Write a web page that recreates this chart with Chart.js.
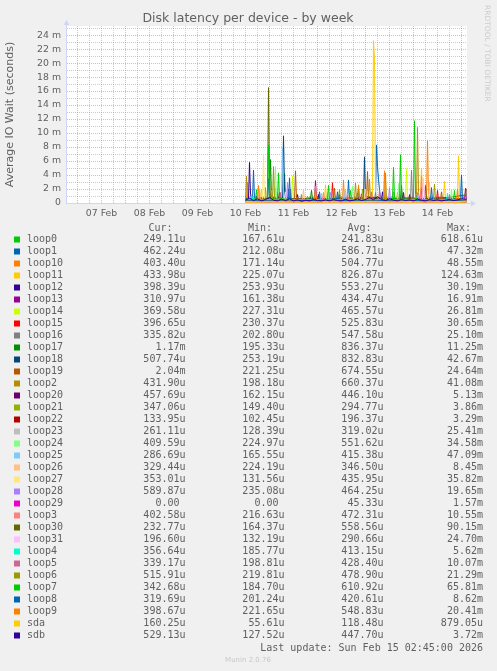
<!DOCTYPE html>
<html>
<head>
<meta charset="utf-8">
<script src="https://cdn.jsdelivr.net/npm/chart.js@4.4.1/dist/chart.umd.min.js"></script>
<style>
  html, body { margin: 0; padding: 0; background: #f0f0f0; }
  canvas { display: block; }
</style>
</head>
<body>
<canvas id="disk" width="497" height="671"></canvas>
<script>
// hours counted from 07 Feb 00:00
const xMin = -5.25, xMax = 194.75;
const xTicks = [0, 6, 12, 18, 24, 30, 36, 42, 48, 54, 60, 66, 72, 78, 84, 90, 96, 102, 108, 114, 120, 126, 132, 138, 144, 150, 156, 162, 168, 174, 180, 186, 192];
const dayLabels = ['07 Feb', '08 Feb', '09 Feb', '10 Feb', '11 Feb', '12 Feb', '13 Feb', '14 Feb'];
const yTicks = [0, 1, 2, 3, 4, 5, 6, 7, 8, 9, 10, 11, 12, 13, 14, 15, 16, 17, 18, 19, 20, 21, 22, 23, 24, 25];

const names = ['loop0', 'loop1', 'loop10', 'loop11', 'loop12', 'loop13', 'loop14', 'loop15', 'loop16', 'loop17', 'loop18', 'loop19', 'loop2', 'loop20', 'loop21', 'loop22', 'loop23', 'loop24', 'loop25', 'loop26', 'loop27', 'loop28', 'loop29', 'loop3', 'loop30', 'loop31', 'loop4', 'loop5', 'loop6', 'loop7', 'loop8', 'loop9', 'sda', 'sdb'];
const colors = ['#00CC00', '#0066B3', '#FF8000', '#FFCC00', '#330099', '#990099', '#CCFF00', '#FF0000', '#808080', '#008F00', '#00487D', '#B35A00', '#B38F00', '#6B006B', '#8FB300', '#B30000', '#BEBEBE', '#80FF80', '#80C9FF', '#FFC080', '#FFE680', '#AA80FF', '#EE00CC', '#FF8080', '#666600', '#FFBFFF', '#00FFCC', '#CC6699', '#999900', '#00CC00', '#0066B3', '#FF8000', '#FFCC00', '#330099'];
const curV = ['249.11u', '462.24u', '403.40u', '433.98u', '398.39u', '310.97u', '369.58u', '396.65u', '335.82u', '1.17m', '507.74u', '2.04m', '431.90u', '457.69u', '347.06u', '133.95u', '261.11u', '409.59u', '286.69u', '329.44u', '353.01u', '589.87u', '0.00', '402.58u', '232.77u', '196.60u', '356.64u', '339.17u', '515.91u', '342.68u', '319.69u', '398.67u', '160.25u', '529.13u'];
const minV = ['167.61u', '212.08u', '171.14u', '225.07u', '253.93u', '161.38u', '227.31u', '230.37u', '202.80u', '195.33u', '253.19u', '221.25u', '198.18u', '162.15u', '149.40u', '102.45u', '128.39u', '224.97u', '165.55u', '224.19u', '131.56u', '235.08u', '0.00', '216.63u', '164.37u', '132.19u', '185.77u', '198.81u', '219.81u', '184.70u', '201.24u', '221.65u', '55.61u', '127.52u'];
const avgV = ['241.83u', '586.71u', '504.77u', '826.87u', '553.27u', '434.47u', '465.57u', '525.83u', '547.58u', '836.37u', '832.83u', '674.55u', '660.37u', '446.10u', '294.77u', '196.37u', '319.02u', '551.62u', '415.38u', '346.50u', '435.95u', '464.25u', '45.33u', '472.31u', '558.56u', '290.66u', '413.15u', '428.40u', '478.90u', '610.92u', '420.61u', '548.83u', '118.48u', '447.70u'];
const maxV = ['618.61u', '47.32m', '48.55m', '124.63m', '30.19m', '16.91m', '26.81m', '30.65m', '25.10m', '11.25m', '42.67m', '24.64m', '41.08m', '5.13m', '3.86m', '3.29m', '25.41m', '34.58m', '47.09m', '8.45m', '35.82m', '19.65m', '1.57m', '10.55m', '90.15m', '24.70m', '5.62m', '10.07m', '21.29m', '65.81m', '8.62m', '20.41m', '879.05u', '3.72m'];

// [hour, milliseconds]
const loop0 = [[84,.3],[88,.25],[92,.35],[97,.22],[102,.3],[108,.2],[114,.28],[120,.22],[126,.3],[132,.24],[138,.2],[144,.3],[150,.26],[156,.22],[162,.3],[168,.25],[174,.2],[180,.28],[186,.24],[192,.3],[194.5,.25]];
const loop1 = [[84,.4],[87.5,.5],[88,4.7],[88.5,.6],[92,.4],[95,.5],[95.5,3.5],[96,.5],[100,.4],[106,.5],[112,.35],[118,.45],[120.5,.5],[121,1.6],[121.5,.4],[128,.5],[135,.5],[135.5,3.3],[136,.6],[142,.4],[149,.6],[149.5,8.3],[150,5.2],[150.5,3.4],[151,1.9],[151.5,.7],[156,.45],[162,.5],[170,.4],[178,.5],[186,.45],[191.5,.6],[192,4.0],[192.5,.5],[194.5,.46]];
const loop10 = [[84,.4],[84.5,.5],[85,3.0],[85.5,.5],[90,.4],[99.5,.4],[100,1.5],[100.5,.4],[108,.45],[116,.4],[124,.5],[132.5,.5],[133,3.3],[133.5,.5],[140,.4],[146,.5],[152,.4],[157.5,.5],[158,1.6],[158.5,.4],[166,.45],[174.5,.6],[175,8.9],[175.5,1.2],[176,.5],[182,.4],[188,.5],[194.5,.4]];
const loop11 = [[84,.5],[91.5,.5],[92,2.0],[92.5,.5],[100,.6],[108,.5],[116,.55],[123.5,.6],[124,2.6],[124.5,.5],[132,.6],[140,.5],[147.5,.7],[148,23.2],[148.5,20.5],[149,.9],[156,.6],[164,.5],[171.5,.6],[172,5.0],[172.5,.6],[178,.5],[183,.6],[183.5,3.1],[184,.5],[190,.7],[190.5,6.75],[191,1.0],[191.5,.5],[194.5,.45]];
const loop12 = [[84,.45],[85.5,.5],[86,5.8],[86.5,1.2],[87,.5],[94,.45],[102,.5],[109.5,.5],[110,1.2],[110.5,.4],[118,.5],[120,.5],[120.5,1.2],[121,.5],[126,.45],[134,.5],[139.5,.5],[140,1.4],[140.5,.5],[148,.5],[152,.5],[152.5,1.6],[153,.5],[156,.55],[164,.45],[172,.5],[180,.5],[188,.45],[194.5,.4]];
const loop13 = [[84,.35],[89,.4],[89.5,1.0],[90,.35],[98,.4],[105,.35],[105.5,2.0],[106,.35],[113,.4],[118.5,.45],[119,3.2],[119.5,.5],[126,.4],[134,.35],[142,.4],[150,.45],[158,.35],[166,.4],[174,.4],[182,.35],[188,.4],[193.5,.5],[194,2.1],[194.5,.3]];
const loop14 = [[84,.4],[92,.35],[100,.45],[107,.4],[107.5,3.8],[108,.4],[116,.4],[127.5,.4],[128,1.3],[128.5,.4],[136,.45],[144,.4],[152,.35],[159,.4],[164,.45],[164.5,4.9],[165,.5],[172,.4],[180,.45],[188,.4],[194.5,.37]];
const loop15 = [[84,.45],[92,.5],[100,.4],[108,.45],[116,.5],[122,.4],[127,.45],[127.5,2.9],[128,.45],[134,.5],[141.5,.45],[142,1.3],[142.5,.4],[150,.5],[158,.45],[166,.5],[171.5,.5],[172,2.2],[172.5,.45],[179.5,.4],[180,1.8],[180.5,.4],[188,.45],[194.5,.4]];
const loop16 = [[84,.45],[92,.5],[100,.45],[106,.45],[106.5,2.0],[107,.45],[111.5,.5],[112,1.2],[112.5,.45],[120,.5],[128,.45],[136,.5],[144,.45],[148.5,.5],[149,1.5],[149.5,.5],[156,.45],[162,.5],[166.5,.5],[167,4.7],[167.5,.5],[174,.45],[182,.5],[190,.45],[194.5,.34]];
const loop17 = [[84,.6],[90,.7],[96,.7],[96.5,6.2],[97,.8],[103,.7],[103.5,4.2],[104,.7],[110,.6],[116.5,.7],[117,1.8],[117.5,.6],[126,.65],[134,.7],[140,.7],[140.5,2.1],[141,.7],[148,.65],[155,.7],[161.5,.7],[162,2.5],[162.5,.7],[170,.65],[178,.7],[186,.8],[194.5,1.17]];
const loop18 = [[84,.6],[92,.7],[98,.6],[102.5,.7],[103,9.6],[103.5,2.0],[104,.7],[110,.6],[118,.7],[126,.65],[134,.7],[143,.7],[143.5,6.6],[144,.9],[150,.7],[158,.6],[166,.7],[174,.65],[182,.7],[190,.6],[194.5,.51]];
const loop19 = [[84,.5],[92,.55],[100,.5],[108.5,.55],[109,4.6],[109.5,.6],[116,.5],[123,.55],[128,.5],[128.5,2.1],[129,.5],[136,.55],[144.5,.6],[145,4.5],[145.5,.6],[152,.5],[160,.55],[168,.5],[176,.55],[181.5,.55],[182,1.6],[182.5,.55],[190,.55],[194,.9],[194.5,2.04]];
const loop2 = [[84,.5],[84.5,3.8],[85,.6],[92,.55],[100,.5],[108,.55],[116,.5],[124,.55],[132,.5],[138.5,.55],[139,2.85],[139.5,.5],[145.5,.5],[146,3.4],[146.5,.5],[153.5,.55],[154,4.3],[154.5,.55],[160,.5],[169.5,.6],[170,10.8],[170.5,1.5],[171,.55],[178,.5],[186,.5],[194.5,.43]];
const loop20 = [[84,.4],[92,.4],[100.5,.4],[101,1.5],[101.5,.4],[110,.35],[118,.45],[126,.4],[130.5,.4],[131,1.2],[131.5,.4],[140,.45],[148,.4],[156,.45],[162.5,.4],[163,1.5],[163.5,.4],[172,.4],[180,.45],[188,.4],[194.5,.46]];
const loop21 = [[84,.25],[93.5,.3],[94,2.2],[94.5,.3],[100,.25],[108,.3],[114.5,.3],[115,1.0],[115.5,.25],[124,.3],[132,.25],[142,.3],[142.5,2.0],[143,.3],[148,.25],[156,.3],[159.5,.3],[160,1.5],[160.5,.3],[168,.25],[176,.3],[184,.25],[194.5,.35]];
const loop22 = [[84,.2],[94,.18],[104,.2],[114,.17],[124,.2],[134,.18],[144,.21],[154,.18],[165.5,.2],[166,1.2],[166.5,.18],[174,.17],[184,.2],[194.5,.13]];
const loop23 = [[84,.3],[92,.3],[98.5,.3],[99,2.2],[99.5,.3],[108,.28],[118,.3],[126,.28],[132.5,.3],[133,1.5],[133.5,.3],[142,.3],[152,.28],[162,.3],[172,.28],[182,.3],[194.5,.26]];
const loop24 = [[84,.45],[92,.5],[98.5,.5],[99,5.2],[99.5,.6],[106,.5],[114,.45],[120,.5],[124.5,.5],[125,1.5],[125.5,.5],[134,.45],[137,.5],[137.5,2.4],[138,.5],[150,.45],[156,.5],[160,.5],[160.5,2.8],[161,.5],[168,.45],[176,.5],[186.5,.45],[187,1.9],[187.5,.45],[194.5,.41]];
const loop25 = [[84,.35],[92,.4],[98,.35],[102,.4],[102.5,7.9],[103,.5],[110,.35],[116,.4],[121.5,.4],[122,1.4],[122.5,.35],[130,.4],[133.5,.4],[134,2.0],[134.5,.4],[140,.35],[150,.4],[160,.35],[170,.4],[180,.35],[190,.4],[194.5,.29]];
const loop26 = [[84,.3],[90.5,.35],[91,2.0],[91.5,.3],[100,.3],[108,.35],[112.5,.35],[113,1.9],[113.5,.3],[120,.35],[130,.3],[143.5,.35],[144,2.0],[144.5,.3],[150,.3],[160,.35],[168,.3],[175.5,.4],[176,3.0],[176.5,.35],[184,.3],[194.5,.33]];
const loop27 = [[84,.35],[92.5,.4],[93,6.9],[93.5,.5],[100,.4],[110,.35],[120,.4],[130,.35],[140,.4],[150,.35],[160,.4],[170,.35],[180,.4],[190,.35],[194.5,.35]];
const loop28 = [[84,.4],[92,.45],[100,.4],[104.5,.45],[105,3.0],[105.5,.45],[112,.4],[120,.45],[126,.4],[126.5,1.5],[127,.4],[140,.45],[150,.4],[155.5,.45],[156,2.2],[156.5,.45],[169.5,.45],[170,1.5],[170.5,.45],[180,.4],[188,.45],[194.5,.59]];
const loop29 = [[84,0],[100,0],[119,0],[119.5,.8],[120,0],[140,0],[160,0],[180,0],[194.5,0]];
const loop3 = [[84,.4],[92,.45],[96.5,.4],[97,1.8],[97.5,.4],[110,.45],[120,.4],[122.5,.4],[123,1.5],[123.5,.4],[128,.45],[134.5,.45],[135,1.4],[135.5,.4],[144,.45],[152,.4],[160,.45],[166,.4],[171.5,.45],[172,4.0],[172.5,.45],[180,.4],[188,.45],[194.5,.4]];
const loop30 = [[84,.45],[90,.5],[95,.6],[95.5,16.5],[96,3.0],[96.5,.6],[104,.5],[112,.45],[120,.5],[130,.45],[140,.5],[150,.45],[160,.5],[173.5,.45],[174,2.5],[174.5,.45],[180,.5],[190,.45],[194.5,.23]];
const loop31 = [[84,.25],[94,.3],[103.5,.25],[104,1.6],[104.5,.3],[114,.3],[124,.25],[134,.3],[144,.25],[154,.3],[164,.25],[172.5,.3],[173,3.6],[173.5,.3],[184,.25],[194.5,.2]];
const loop4 = [[84,.35],[86.5,.4],[87,1.2],[87.5,.5],[88,1.0],[88.5,.4],[96,.35],[106,.4],[116,.35],[126,.4],[136,.35],[146,.4],[156,.35],[166,.4],[176,.35],[184.5,.4],[185,1.4],[185.5,.35],[194.5,.36]];
const loop5 = [[84,.35],[94,.4],[101,.35],[101.5,1.5],[102,.35],[114,.4],[124,.35],[134,.4],[146.5,.4],[147,1.6],[147.5,.4],[150.5,.4],[151,1.8],[151.5,.4],[156,.35],[166,.4],[176,.35],[185.5,.4],[186,1.2],[186.5,.35],[194.5,.34]];
const loop6 = [[84,.4],[92,.45],[97.5,.45],[98,5.2],[98.5,.5],[106,.4],[116,.45],[126,.4],[130.5,.4],[131,1.9],[131.5,.4],[136,.45],[146,.4],[156,.45],[166,.4],[178,.45],[178.5,2.7],[179,.45],[186,.4],[194.5,.52]];
const loop7 = [[84,.45],[89,.5],[89.5,1.9],[90,.5],[95,.5],[95.5,8.3],[96,.6],[100,.5],[100.5,4.3],[101,.6],[108,.5],[116,.45],[125,.5],[125.5,2.5],[126,.5],[136,.5],[136.5,1.8],[137,.5],[144,.45],[150,.5],[157.5,.5],[158,5.1],[158.5,.6],[161,.5],[161.5,6.9],[162,.6],[168,.5],[168.5,11.75],[169,1.2],[169.5,.5],[176,.5],[184,.45],[188,.5],[188.5,1.8],[189,.5],[194.5,.34]];
const loop8 = [[84,.35],[92,.4],[100,.35],[105.5,.4],[106,3.6],[106.5,.4],[114,.35],[122,.4],[129.5,.4],[130,1.6],[130.5,.35],[140,.4],[150,.35],[160,.4],[170,.35],[176.5,.4],[177,2.2],[177.5,.4],[190,.35],[194.5,.32]];
const loop9 = [[84,.45],[90,.5],[90.5,2.5],[91,.5],[100,.45],[110,.5],[118.5,.5],[119,2.4],[119.5,.5],[128,.45],[134,.5],[140,.5],[140.5,2.6],[141,.5],[148,.45],[153,.5],[153.5,4.6],[154,.5],[162,.45],[170,.5],[180,.45],[189.5,.5],[190,2.0],[190.5,.5],[194.5,.4]];
const sda = [[84,.12],[90,.1],[96,.14],[102,.11],[108,.13],[114,.1],[120,.12],[126,.11],[132,.13],[138,.1],[144,.12],[150,.14],[156,.11],[162,.12],[168,.1],[174,.13],[180,.11],[186,.12],[192,.1],[194.5,.16]];
const sdb = [[84,.4],[86,.7],[88,.35],[90,.6],[92,.3],[94,.5],[96,.8],[98,.4],[100,.3],[102,.55],[104,.35],[106,.6],[108,.3],[110,.45],[112,.25],[114,.4],[116,.3],[118,.5],[120,.35],[122,.3],[124,.45],[126,.3],[128,.5],[130,.35],[132,.3],[134,.55],[136,.3],[138,.4],[140,.6],[142,.35],[144,.5],[146,.8],[148,.45],[150,.9],[152,.5],[154,.35],[156,.6],[158,.4],[160,.3],[162,.5],[164,.35],[166,.45],[168,.3],[170,.55],[172,.4],[174,.3],[176,.5],[178,.35],[180,.45],[182,.3],[184,.4],[186,.5],[188,.35],[190,.45],[192,.6],[194.5,.53]];

const seriesData = [loop0, loop1, loop10, loop11, loop12, loop13, loop14, loop15, loop16, loop17, loop18, loop19, loop2, loop20, loop21, loop22, loop23, loop24, loop25, loop26, loop27, loop28, loop29, loop3, loop30, loop31, loop4, loop5, loop6, loop7, loop8, loop9, sda, sdb];

const textColor = '#606060';
const majorGrid = 'rgba(230,110,110,0.55)';
const minorGrid = 'rgba(140,140,140,0.45)';
const axisColor = '#cfd6f8';

// canvas bits munin/rrdtool draw outside the plot
const muninParts = {
    id: 'muninParts',
    beforeDraw(chart) {
        const {ctx, chartArea: a} = chart;
        ctx.save();
        ctx.fillStyle = '#ffffff';
        ctx.fillRect(a.left, a.top, a.right - a.left, a.bottom - a.top);
        ctx.restore();
    },
    beforeDatasetsDraw(chart) {
        const {ctx, chartArea: a} = chart;
        ctx.save();
        ctx.fillStyle = axisColor;
        ctx.fillRect(a.left - 1, a.top - 2, 1, a.bottom - a.top + 3);
        ctx.fillRect(a.left - 1, a.bottom, a.right - a.left + 5, 1);
        ctx.beginPath();
        ctx.moveTo(a.left - 3.5, a.top - 1);
        ctx.lineTo(a.left + 2.5, a.top - 1);
        ctx.lineTo(a.left - 0.5, a.top - 6);
        ctx.fill();
        ctx.beginPath();
        ctx.moveTo(a.right + 4, a.bottom - 2.5);
        ctx.lineTo(a.right + 4, a.bottom + 3.5);
        ctx.lineTo(a.right + 9, a.bottom + 0.5);
        ctx.fill();
        ctx.restore();
    },
    afterDraw(chart) {
        const ctx = chart.ctx;
        ctx.save();
        // title
        ctx.fillStyle = textColor;
        ctx.font = '12.5px "DejaVu Sans"';
        ctx.textAlign = 'center';
        ctx.textBaseline = 'middle';
        ctx.fillText('Disk latency per device - by week', 248, 19);
        // rrdtool watermark
        ctx.save();
        ctx.translate(487, 5);
        ctx.rotate(Math.PI / 2);
        ctx.font = '7.5px "DejaVu Sans"';
        ctx.fillStyle = '#cccccc';
        ctx.textAlign = 'left';
        ctx.fillText('RRDTOOL / TOBI OETIKER', 0, 0);
        ctx.restore();
        // legend table
        ctx.font = '10px "DejaVu Sans Mono"';
        ctx.fillStyle = textColor;
        ctx.textAlign = 'right';
        const heads = ['Cur:', 'Min:', 'Avg:', 'Max:'];
        const headX = [172.5, 272, 371.5, 471];
        heads.forEach((h, i) => ctx.fillText(h, headX[i], 228));
        const colX = [185.5, 284.5, 383.5, 483];
        const pad = s => /[a-z]$/.test(s) ? s : s + ' ';
        names.forEach((n, i) => {
            const y = 239.5 + 12 * i;
            ctx.fillStyle = colors[i];
            ctx.fillRect(14, y - 3, 6, 6);
            ctx.fillStyle = textColor;
            ctx.textAlign = 'left';
            ctx.fillText(n, 27, y);
            ctx.textAlign = 'right';
            [curV[i], minV[i], avgV[i], maxV[i]].forEach((v, k) => ctx.fillText(pad(v), colX[k], y));
        });
        ctx.fillText('Last update: Sun Feb 15 02:45:00 2026', 483, 648);
        ctx.font = '7px "DejaVu Sans"';
        ctx.fillStyle = '#c8c8c8';
        ctx.textAlign = 'center';
        ctx.fillText('Munin 2.0.76', 248, 660);
        ctx.restore();
    }
};

Chart.defaults.font.family = '"DejaVu Sans", sans-serif';

new Chart(document.getElementById('disk'), {
    type: 'line',
    data: {
        datasets: names.map((n, i) => ({
            label: n,
            data: seriesData[i].map(([x, y]) => ({x, y})),
            borderColor: colors[i],
            backgroundColor: colors[i],
            borderWidth: 1,
            pointRadius: 0,
            tension: 0,
            fill: false,
            order: names.length - i
        }))
    },
    options: {
        responsive: false,
        animation: false,
        devicePixelRatio: 1,
        layout: {padding: {top: 26, right: 30, bottom: 448, left: 0}},
        plugins: {
            legend: {display: false},
            tooltip: {enabled: false},
            title: {display: false}
        },
        scales: {
            x: {
                type: 'linear',
                min: xMin,
                max: xMax,
                afterBuildTicks: s => { s.ticks = xTicks.map(v => ({value: v})); },
                afterFit: s => { s.height = 20; },
                grid: {
                    drawTicks: false,
                    color: c => c.tick.value % 24 === 0 ? majorGrid : minorGrid
                },
                border: {display: false, dash: [1, 1]},
                ticks: {
                    autoSkip: false,
                    maxRotation: 0,
                    padding: 5,
                    color: textColor,
                    font: {size: 9.33},
                    callback: v => (v - 12) % 24 === 0 ? dayLabels[(v - 12) / 24] : ''
                }
            },
            y: {
                min: 0,
                max: 25.3,
                afterBuildTicks: s => { s.ticks = yTicks.map(v => ({value: v})); },
                afterFit: s => { s.width = 67; },
                grid: {
                    drawTicks: false,
                    color: c => c.tick.value === 0 ? 'rgba(0,0,0,0)' : (c.tick.value % 2 === 0 ? majorGrid : minorGrid)
                },
                border: {display: false, dash: [1, 1]},
                title: {
                    display: true,
                    text: 'Average IO Wait (seconds)',
                    color: textColor,
                    font: {size: 11},
                    padding: {top: 4, bottom: 0}
                },
                ticks: {
                    autoSkip: false,
                    padding: 6,
                    color: textColor,
                    font: {size: 9.33},
                    callback: v => v % 2 !== 0 ? '' : (v === 0 ? '0' : v + ' m')
                }
            }
        }
    },
    plugins: [muninParts]
});
</script>
</body>
</html>
